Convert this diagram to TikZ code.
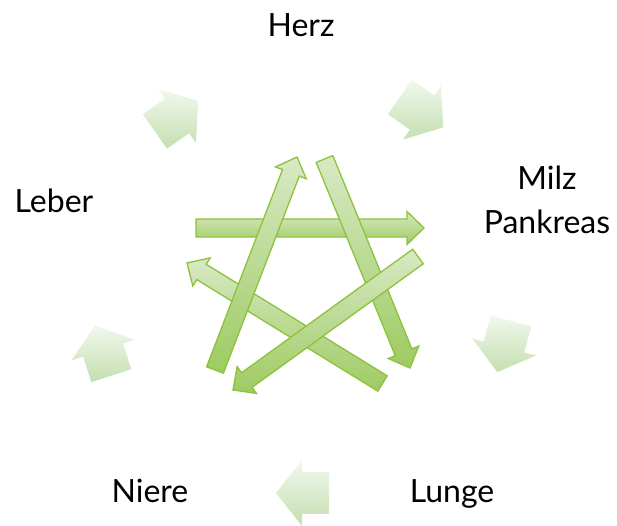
\documentclass[tikz,border=0pt]{standalone}
\usepackage{fontspec}
\setmainfont{Lato}
\usetikzlibrary{calc}
\definecolor{ringtop}{RGB}{242,248,238}
\definecolor{ringbot}{RGB}{196,223,175}
\definecolor{startop}{RGB}{216,233,197}
\definecolor{starbot}{RGB}{158,203,98}
\definecolor{starline}{RGB}{141,194,58}
\tikzset{
  organ/.style={font=\fontsize{32}{44}\selectfont, anchor=base, inner sep=0pt, align=center},
  ringarrow/.style={top color=ringtop, bottom color=ringbot},
  stararrow/.style={draw=starline, line width=1.3pt, line join=miter, top color=startop, bottom color=starbot}
}
% outer arrow: junction of shaft and head, direction
\newcommand{\ringarrow}[2]{%
  \path[ringarrow] ($(#1)+(#2+180:27)+(#2+90:21)$) -- ($(#1)+(#2+90:21)$)
    -- ($(#1)+(#2+90:33)$) -- ($(#1)+(#2:26)$) -- ($(#1)+(#2-90:33)$)
    -- ($(#1)+(#2-90:21)$) -- ($(#1)+(#2+180:27)+(#2-90:21)$) -- cycle;}
% star arrow: from tail to tip
\newcommand{\stararrow}[2]{%
  \coordinate (h) at ($(#2)!17pt!(#1)$);
  \path[stararrow] ($(#1)!9pt!90:(#2)$) -- ($(h)!9pt!90:(#2)$) -- ($(h)!16.5pt!90:(#2)$)
    -- (#2) -- ($(h)!16.5pt!-90:(#2)$) -- ($(h)!9pt!-90:(#2)$) -- ($(#1)!9pt!-90:(#2)$) -- cycle;}
\begin{document}
\begin{tikzpicture}[x=1pt,y=1pt]
  \useasboundingbox (0,0) rectangle (617,526);
  % labels
  \node[organ] (herz) at (301,489) {Herz};
  \node[organ] (milz) at (547,292) {Milz\\Pankreas};
  \node[organ] (lunge) at (452,23) {Lunge};
  \node[organ] (niere) at (150,23) {Niere};
  \node[organ] (leber) at (54,313) {Leber};
  % generating cycle
  \ringarrow{177,410}{35}
  \ringarrow{422,413.5}{-35}
  \ringarrow{504,179}{-105}
  \ringarrow{302,33}{180}
  \ringarrow{103,176}{108}
  % controlling cycle
  \coordinate (leber-s) at (196,298);  \coordinate (milz-e) at (424,298);
  \coordinate (niere-s) at (215,156);  \coordinate (herz-e) at (297,369);
  \coordinate (herz-s) at (324.5,367); \coordinate (lunge-e) at (410,158);
  \coordinate (milz-s) at (418,269.5); \coordinate (niere-e) at (233,136);
  \coordinate (lunge-s) at (382.5,142.5); \coordinate (leber-e) at (187,263);
  \stararrow{lunge-s}{leber-e}
  \stararrow{leber-s}{milz-e}
  \stararrow{herz-s}{lunge-e}
  \stararrow{milz-s}{niere-e}
  \stararrow{niere-s}{herz-e}
\end{tikzpicture}
\end{document}
